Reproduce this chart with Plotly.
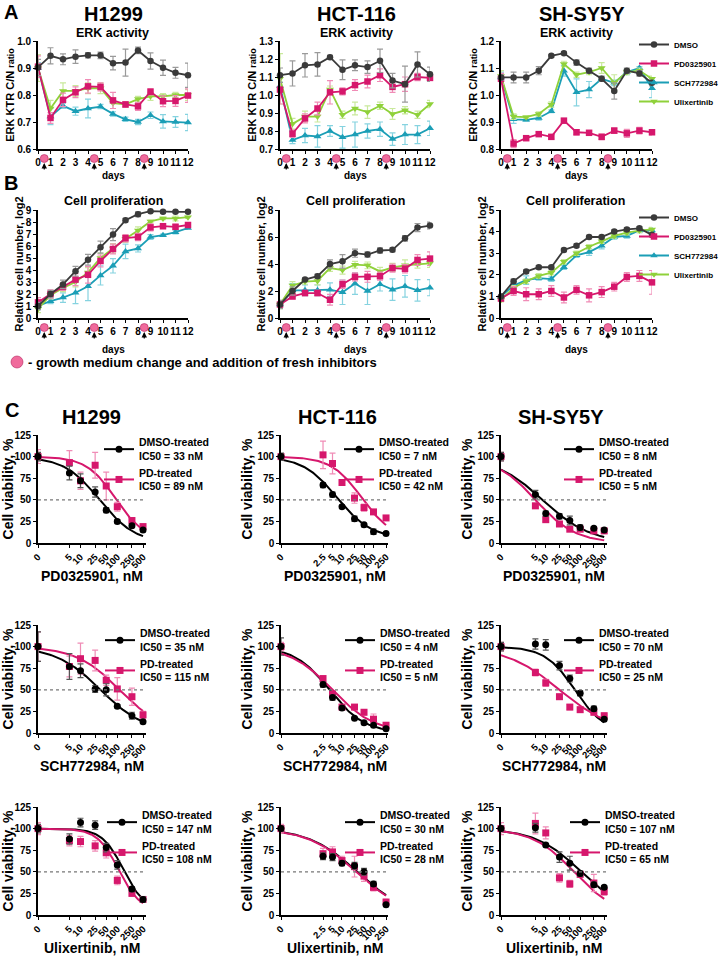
import numpy as np
import plotly.graph_objects as go

FONT = "Liberation Sans"
W, H = 728, 959

# ------------------------------------------------------------------ data
days = list(range(13))
change_days = [0.5, 4.5, 8.5]

# Panel A - ERK activity (ERK KTR C/N ratio)
erk_h1299_dmso = [0.902, 0.945, 0.932, 0.942, 0.947, 0.947, 0.918, 0.920, 0.965, 0.926, 0.901, 0.882, 0.873]
erk_h1299_dmso_err = [0.03, 0.03, 0.02, 0.025, 0.01, 0.012, 0.025, 0.05, 0.012, 0.03, 0.028, 0.02, 0.045]
erk_h1299_pd = [0.905, 0.715, 0.782, 0.810, 0.832, 0.830, 0.780, 0.765, 0.758, 0.812, 0.777, 0.778, 0.798]
erk_h1299_pd_err = [0.04, 0.02, 0.025, 0.02, 0.025, 0.015, 0.03, 0.01, 0.015, 0.012, 0.02, 0.02, 0.025]
erk_h1299_sch = [0.900, 0.720, 0.760, 0.740, 0.750, 0.757, 0.730, 0.710, 0.700, 0.725, 0.702, 0.700, 0.698]
erk_h1299_sch_err = [0.02, 0.03, 0.01, 0.015, 0.035, 0.008, 0.008, 0.008, 0.01, 0.012, 0.025, 0.02, 0.03]
erk_h1299_ulx = [0.900, 0.750, 0.815, 0.815, 0.825, 0.825, 0.770, 0.765, 0.785, 0.795, 0.795, 0.800, 0.800]
erk_h1299_ulx_err = [0.05, 0.03, 0.03, 0.02, 0.02, 0.02, 0.02, 0.01, 0.01, 0.015, 0.01, 0.01, 0.02]

erk_hct_dmso = [1.11, 1.12, 1.165, 1.17, 1.21, 1.14, 1.165, 1.155, 1.19, 1.08, 1.06, 1.17, 1.115]
erk_hct_dmso_err = [0.04, 0.07, 0.065, 0.065, 0.01, 0.055, 0.03, 0.035, 0.065, 0.04, 0.1, 0.07, 0.04]
erk_hct_pd = [1.03, 0.785, 0.87, 0.925, 1.015, 1.02, 1.055, 1.075, 1.11, 1.045, 1.06, 1.10, 1.095]
erk_hct_pd_err = [0.08, 0.02, 0.025, 0.035, 0.065, 0.02, 0.03, 0.035, 0.035, 0.03, 0.04, 0.02, 0.02]
erk_hct_sch = [1.05, 0.75, 0.775, 0.77, 0.80, 0.765, 0.78, 0.80, 0.81, 0.755, 0.78, 0.78, 0.815]
erk_hct_sch_err = [0.02, 0.02, 0.04, 0.06, 0.03, 0.06, 0.07, 0.04, 0.04, 0.035, 0.055, 0.05, 0.04]
erk_hct_ulx = [1.09, 0.84, 0.88, 0.88, 1.03, 0.89, 0.925, 0.905, 0.94, 0.895, 0.915, 0.89, 0.95]
erk_hct_ulx_err = [0.14, 0.03, 0.03, 0.03, 0.02, 0.02, 0.035, 0.035, 0.02, 0.03, 0.02, 0.02, 0.02]

erk_shsy_dmso = [1.065, 1.065, 1.065, 1.09, 1.145, 1.155, 1.12, 1.09, 1.06, 1.015, 1.09, 1.08, 1.045]
erk_shsy_dmso_err = [0.01, 0.02, 0.02, 0.015, 0.005, 0.005, 0.01, 0.01, 0.01, 0.03, 0.01, 0.01, 0.01]
erk_shsy_pd = [1.06, 0.82, 0.84, 0.855, 0.845, 0.905, 0.862, 0.86, 0.845, 0.868, 0.858, 0.868, 0.862]
erk_shsy_pd_err = [0.02, 0.015, 0.008, 0.008, 0.008, 0.008, 0.01, 0.008, 0.01, 0.01, 0.015, 0.012, 0.01]
erk_shsy_sch = [1.065, 0.91, 0.908, 0.915, 0.94, 1.09, 1.01, 1.02, 1.06, 1.045, 1.085, 1.10, 1.025]
erk_shsy_sch_err = [0.02, 0.015, 0.005, 0.008, 0.005, 0.02, 0.05, 0.03, 0.005, 0.01, 0.01, 0.005, 0.035]
erk_shsy_ulx = [1.07, 0.92, 0.918, 0.93, 0.965, 1.115, 1.075, 1.085, 1.10, 1.045, 1.085, 1.09, 1.06]
erk_shsy_ulx_err = [0.02, 0.01, 0.005, 0.008, 0.01, 0.01, 0.01, 0.01, 0.02, 0.03, 0.01, 0.01, 0.01]

# Panel B - Cell proliferation (relative cell number, log2)
pro_h1299_dmso = [1.0, 2.0, 2.8, 3.9, 4.85, 5.9, 6.95, 8.15, 8.65, 8.9, 8.85, 8.85, 8.85]
pro_h1299_dmso_err = [0.3, 0.3, 0.35, 0.4, 0.45, 0.5, 0.5, 0.15, 0.2, 0.1, 0.1, 0.1, 0.1]
pro_h1299_pd = [1.3, 2.0, 2.6, 3.2, 3.6, 4.75, 5.75, 6.65, 6.75, 7.55, 7.65, 7.6, 7.75]
pro_h1299_pd_err = [0.4, 0.35, 0.3, 0.5, 0.7, 0.5, 0.4, 0.3, 0.3, 0.3, 0.2, 0.2, 0.2]
pro_h1299_sch = [1.0, 1.4, 1.7, 2.1, 2.65, 3.55, 4.35, 5.55, 5.8, 6.75, 6.9, 7.15, 7.5]
pro_h1299_sch_err = [0.3, 0.2, 0.4, 0.9, 1.2, 0.8, 0.6, 0.6, 0.3, 0.2, 0.1, 0.15, 0.1]
pro_h1299_ulx = [0.75, 1.9, 2.5, 3.0, 3.8, 5.0, 5.8, 6.6, 7.3, 8.05, 8.3, 8.3, 8.4]
pro_h1299_ulx_err = [0.3, 0.3, 0.3, 0.4, 0.4, 0.4, 0.4, 0.3, 0.3, 0.1, 0.1, 0.2, 0.1]

pro_hct_dmso = [1.0, 2.0, 2.85, 3.1, 4.0, 4.2, 4.8, 4.7, 5.0, 5.05, 5.9, 6.7, 6.85]
pro_hct_dmso_err = [0.3, 0.3, 0.1, 0.15, 0.3, 0.5, 0.3, 0.2, 0.2, 0.15, 0.2, 0.3, 0.25]
pro_hct_pd = [1.0, 1.6, 1.85, 1.85, 1.35, 2.5, 3.05, 3.05, 3.1, 3.7, 3.65, 4.3, 4.4]
pro_hct_pd_err = [0.2, 0.2, 0.2, 0.2, 0.4, 0.3, 0.3, 0.4, 0.3, 0.3, 0.3, 0.4, 0.5]
pro_hct_sch = [1.0, 2.05, 2.05, 2.05, 2.1, 1.9, 2.55, 2.0, 2.5, 2.1, 2.35, 2.05, 2.25]
pro_hct_sch_err = [0.2, 0.5, 0.4, 0.4, 0.5, 0.9, 0.8, 1.0, 0.5, 0.8, 0.8, 0.8, 0.6]
pro_hct_ulx = [1.0, 2.4, 2.7, 2.75, 3.7, 3.55, 3.95, 3.9, 3.45, 3.75, 3.9, 4.0, 4.05]
pro_hct_ulx_err = [0.3, 0.3, 0.2, 0.3, 0.25, 0.3, 0.25, 0.25, 0.3, 0.3, 0.4, 0.3, 0.3]

pro_shsy_dmso = [1.0, 1.7, 2.15, 2.35, 2.35, 3.15, 3.35, 3.75, 3.75, 4.0, 4.1, 4.15, 3.85]
pro_shsy_dmso_err = [0.1, 0.1, 0.08, 0.08, 0.08, 0.08, 0.08, 0.08, 0.08, 0.08, 0.08, 0.08, 0.1]
pro_shsy_pd = [0.9, 1.25, 1.1, 1.1, 1.25, 0.95, 1.3, 1.05, 1.2, 1.45, 1.9, 1.95, 1.65]
pro_shsy_pd_err = [0.1, 0.2, 0.3, 0.25, 0.25, 0.25, 0.2, 0.3, 0.25, 0.2, 0.2, 0.25, 0.55]
pro_shsy_sch = [1.0, 1.5, 1.75, 1.85, 1.8, 2.35, 2.9, 3.05, 3.35, 3.75, 3.8, 4.05, 4.05]
pro_shsy_sch_err = [0.1, 0.1, 0.2, 0.1, 0.1, 0.1, 0.1, 0.15, 0.15, 0.1, 0.1, 0.1, 0.1]
pro_shsy_ulx = [0.85, 1.4, 1.7, 1.95, 2.1, 2.6, 3.0, 3.3, 3.55, 3.8, 3.95, 4.05, 4.1]
pro_shsy_ulx_err = [0.1, 0.1, 0.1, 0.1, 0.1, 0.1, 0.1, 0.1, 0.1, 0.1, 0.1, 0.1, 0.1]

# Panel C - dose response (cell viability, %)
conc_500 = [0, 5, 10, 25, 50, 100, 250, 500]
conc_250 = [0, 2.5, 5, 10, 25, 50, 100, 250]
tick_500 = ["0", "5", "10", "25", "50", "100", "250", "500"]
tick_250 = ["0", "2.5", "5", "10", "25", "50", "100", "250"]

via_h1299_pd_dmso = [100, 81, 72, 59, 38, 25, 20, 15]
via_h1299_pd_dmso_err = [5, 8, 8, 6, 3, 2, 2, 2]
via_h1299_pd_pd = [100, 93, 72, 90, 66, 42, 26, 19]
via_h1299_pd_pd_err = [8, 14, 10, 15, 16, 5, 3, 2]
via_hct_pd_dmso = [100, 67, 56, 42, 28, 21, 13, 11]
via_hct_pd_dmso_err = [4, 3, 3, 2, 3, 2, 3, 2]
via_hct_pd_pd = [100, 102, 92, 70, 52, 41, 36, 29]
via_hct_pd_pd_err = [3, 16, 12, 3, 6, 4, 2, 2]
via_shsy_pd_dmso = [100, 56, 34, 31, 26, 18, 17, 15]
via_shsy_pd_dmso_err = [5, 5, 3, 3, 5, 3, 2, 2]
via_shsy_pd_pd = [100, 43, 27, 22, 16, 16, 14, 14]
via_shsy_pd_pd_err = [5, 3, 2, 2, 2, 2, 2, 2]

via_h1299_sch_dmso = [100, 77, 72, 51, 50, 31, 20, 13]
via_h1299_sch_dmso_err = [17, 15, 8, 4, 7, 2, 4, 2]
via_h1299_sch_pd = [100, 77, 86, 84, 61, 51, 42, 21]
via_h1299_sch_pd_err = [17, 12, 18, 12, 6, 13, 10, 4]
via_hct_sch_dmso = [100, 56, 41, 29, 17, 12, 9, 5]
via_hct_sch_dmso_err = [10, 3, 3, 2, 1, 1, 1, 1]
via_hct_sch_pd = [100, 63, 45, 30, 30, 24, 16, 9]
via_hct_sch_pd_err = [5, 3, 3, 2, 3, 3, 6, 3]
via_shsy_sch_dmso = [100, 103, 102, 78, 63, 46, 28, 16]
via_shsy_sch_dmso_err = [5, 6, 6, 5, 4, 3, 3, 2]
via_shsy_sch_pd = [100, 70, 58, 42, 30, 27, 24, 20]
via_shsy_sch_pd_err = [5, 4, 4, 3, 3, 3, 3, 3]

via_h1299_ulx_dmso = [100, 88, 107, 104, 78, 58, 30, 18]
via_h1299_ulx_dmso_err = [5, 6, 5, 5, 5, 5, 3, 3]
via_h1299_ulx_pd = [100, 86, 85, 80, 72, 40, 25, 18]
via_h1299_ulx_pd_err = [7, 6, 6, 6, 6, 5, 3, 3]
via_hct_ulx_dmso = [100, 68, 67, 60, 57, 50, 36, 12]
via_hct_ulx_dmso_err = [3, 4, 4, 3, 4, 4, 3, 2]
via_hct_ulx_pd = [100, 71, 73, 63, 56, 45, 32, 15]
via_hct_ulx_pd_err = [5, 6, 6, 5, 12, 6, 4, 3]
via_shsy_ulx_dmso = [100, 101, 81, 67, 60, 48, 35, 32]
via_shsy_ulx_dmso_err = [3, 5, 2, 6, 8, 3, 3, 2]
via_shsy_ulx_pd = [100, 106, 95, 43, 36, 47, 37, 27]
via_shsy_ulx_pd_err = [7, 12, 7, 5, 4, 3, 10, 4]

# fitted dose-response parameters (top, bottom, IC50 nM, hill)
fit_h1299_pd_dmso = (100, 0, 33, 0.9)
fit_h1299_pd_pd = (100, 3, 89, 1.1)
fit_hct_pd_dmso = (100, 5, 7, 0.8)
fit_hct_pd_pd = (100, 5, 42, 0.9)
fit_shsy_pd_dmso = (100, 0, 8, 0.625)
fit_shsy_pd_pd = (100, 0, 5, 0.746)
fit_h1299_sch_dmso = (100, 0, 35, 0.715)
fit_h1299_sch_pd = (100, 0, 115, 0.733)
fit_hct_sch_dmso = (100, 0, 4, 0.777)
fit_hct_sch_pd = (100, 0, 5, 0.648)
fit_shsy_sch_dmso = (100, 0, 70, 1.0)
fit_shsy_sch_pd = (100, 0, 25, 0.56)
fit_h1299_ulx_dmso = (100, 5, 147, 1.5)
fit_h1299_ulx_pd = (100, 5, 108, 1.5)
fit_hct_ulx_dmso = (100, 0, 30, 0.57)
fit_hct_ulx_pd = (100, 0, 28, 0.57)
fit_shsy_ulx_dmso = (100, 0, 107, 0.655)
fit_shsy_ulx_pd = (100, 0, 65, 0.72)

ic50_labels = [
    ("33", "89"), ("7", "42"), ("8", "5"),
    ("35", "115"), ("4", "5"), ("70", "25"),
    ("147", "108"), ("30", "28"), ("107", "65"),
]

# ------------------------------------------------------------------ style
C_DMSO, E_DMSO = "#3a3a3a", "#9a9a9a"
C_PD, E_PD = "#d6176c", "#f08cb6"
C_SCH, E_SCH = "#1b9eb6", "#86d3e0"
C_ULX, E_ULX = "#8fd13a", "#c9e99c"
C_BLK, E_BLK = "#000000", "#555555"
PINK_DOT = "#f06b9c"


def fx(p):
    return p / W


def fy(p):
    return 1 - p / H


AB_cols = [(38, 188), (280, 430), (501, 652)]
A_row = (41, 149)
B_row = (210, 318)
C_cols = [(38, 146), (281, 388), (501, 607)]
C_rows = [(435, 543), (625, 733), (807, 915)]
C_zero = [0.7, 0.116, 0.5]
C_hi = [2.78, 2.46, 2.78]

fig = go.Figure()
layout = dict(
    width=W, height=H, margin=dict(l=0, r=0, t=0, b=0),
    paper_bgcolor="white", plot_bgcolor="rgba(0,0,0,0)",
    font=dict(family=FONT, color="black", weight="bold"),
    showlegend=True,
)
annotations = []
shapes = []

tickfont = dict(family=FONT, size=10, color="black", weight="bold")


def axis_common():
    return dict(showline=True, linecolor="black", linewidth=1.6, ticks="outside",
                ticklen=3, tickwidth=1.4, tickcolor="black", showgrid=False,
                zeroline=False, tickfont=tickfont, fixedrange=True, automargin=False)


def set_axes(i, xpx, ypx, xextra, yextra):
    xn = "xaxis" if i == 1 else f"xaxis{i}"
    yn = "yaxis" if i == 1 else f"yaxis{i}"
    xa = axis_common()
    xa.update(domain=[fx(xpx[0]), fx(xpx[1])], anchor=f"y{i}" if i > 1 else "y")
    xa.update(xextra)
    ya = axis_common()
    ya.update(domain=[fy(ypx[1]), fy(ypx[0])], anchor=f"x{i}" if i > 1 else "x")
    ya.update(yextra)
    layout[xn] = xa
    layout[yn] = ya
    return ("x" if i == 1 else f"x{i}"), ("y" if i == 1 else f"y{i}")


def ytitle(s, size, standoff=3):
    return dict(text=s, standoff=standoff,
                font=dict(family=FONT, size=size, color="black", weight="bold"))


def text(x, y, s, size, xanchor="center", angle=0, yanchor="middle"):
    annotations.append(dict(x=fx(x), y=fy(y), xref="paper", yref="paper", text=s,
                            showarrow=False, xanchor=xanchor, yanchor=yanchor,
                            textangle=angle,
                            font=dict(family=FONT, size=size, color="black", weight="bold")))


def series(xr, yr, x, y, err, color, ecolor, symbol, size):
    fig.add_trace(go.Scatter(
        x=x, y=y, xaxis=xr, yaxis=yr, mode="lines+markers",
        line=dict(color=color, width=1.8),
        marker=dict(symbol=symbol, size=size, color=color, line=dict(width=0)),
        error_y=dict(type="data", array=err, color=ecolor, thickness=1.2, width=3),
        cliponaxis=False, showlegend=False, hoverinfo="skip"))


# ------------------------------------------------------------------ panels A & B
cell_lines = ["H1299", "HCT-116", "SH-SY5Y"]
A_sets = [
    (erk_h1299_dmso, erk_h1299_dmso_err, erk_h1299_pd, erk_h1299_pd_err,
     erk_h1299_sch, erk_h1299_sch_err, erk_h1299_ulx, erk_h1299_ulx_err),
    (erk_hct_dmso, erk_hct_dmso_err, erk_hct_pd, erk_hct_pd_err,
     erk_hct_sch, erk_hct_sch_err, erk_hct_ulx, erk_hct_ulx_err),
    (erk_shsy_dmso, erk_shsy_dmso_err, erk_shsy_pd, erk_shsy_pd_err,
     erk_shsy_sch, erk_shsy_sch_err, erk_shsy_ulx, erk_shsy_ulx_err),
]
B_sets = [
    (pro_h1299_dmso, pro_h1299_dmso_err, pro_h1299_pd, pro_h1299_pd_err,
     pro_h1299_sch, pro_h1299_sch_err, pro_h1299_ulx, pro_h1299_ulx_err),
    (pro_hct_dmso, pro_hct_dmso_err, pro_hct_pd, pro_hct_pd_err,
     pro_hct_sch, pro_hct_sch_err, pro_hct_ulx, pro_hct_ulx_err),
    (pro_shsy_dmso, pro_shsy_dmso_err, pro_shsy_pd, pro_shsy_pd_err,
     pro_shsy_sch, pro_shsy_sch_err, pro_shsy_ulx, pro_shsy_ulx_err),
]
A_yranges = [(0.6, 1.0, 0.1), (0.7, 1.3, 0.1), (0.8, 1.2, 0.1)]
B_yranges = [(0, 9, 1), (0, 8, 2), (0, 5, 1)]
A_title_x = [113, 356, 582]
A_sub_x = [112, 356, 576]
B_sub_x = [113, 355, 575]

idx = 0
for panel, sets, row, yranges, sub, subx, ytext, ystand in [
    ("A", A_sets, A_row, A_yranges, "ERK activity", A_sub_x,
     "ERK KTR C/N <span style='font-size:9px'>ratio</span>", 0),
    ("B", B_sets, B_row, B_yranges, "Cell proliferation", B_sub_x,
     "Relative cell number, log2", 0),
]:
    for c in range(3):
        idx += 1
        lo, hi, dt = yranges[c]
        xr, yr = set_axes(idx, AB_cols[c], row,
                          dict(range=[0, 12], tickvals=days, ticktext=[str(d) for d in days],
                               tickangle=0),
                          dict(range=[lo, hi], dtick=dt, tick0=lo,
                               tickformat=".1f" if panel == "A" else "d",
                               title=ytitle(ytext, 11, ystand)))
        d, de, p, pe, s, se, u, ue = sets[c]
        series(xr, yr, days, s, se, C_SCH, E_SCH, "triangle-up", 7)
        series(xr, yr, days, u, ue, C_ULX, E_ULX, "triangle-down", 7)
        series(xr, yr, days, p, pe, C_PD, E_PD, "square", 6.5)
        series(xr, yr, days, d, de, C_DMSO, E_DMSO, "circle", 6.5)
        # subtitle, x title
        text(subx[c], row[0] - (8 if panel == "A" else 9), sub, 12.5)
        text((AB_cols[c][0] + AB_cols[c][1]) / 2, row[1] + 26 + (0 if panel == "A" else 5),
             "days", 10)
        # medium change markers
        for cd in change_days:
            shapes.append(dict(type="circle", xref=xr, yref="paper",
                               xsizemode="pixel", ysizemode="pixel",
                               xanchor=cd, yanchor=fy(row[1] + 9.5),
                               x0=-4, x1=4, y0=-4, y1=4,
                               fillcolor=PINK_DOT, line=dict(color="#b3245e", width=0.6)))
            annotations.append(dict(x=cd, y=fy(row[1] + 14), xref=xr, yref="paper",
                                    text="", showarrow=True, ax=0, ay=8,
                                    arrowhead=2, arrowsize=0.9, arrowwidth=1.2,
                                    arrowcolor="black"))
        if c == 2:
            lg = "legend" if panel == "A" else "legend2"
            for nm, col, sym in [("DMSO", C_DMSO, "circle"), ("PD0325901", C_PD, "square"),
                                 ("SCH772984", C_SCH, "triangle-up"),
                                 ("Ulixertinib", C_ULX, "triangle-down")]:
                fig.add_trace(go.Scatter(x=[None], y=[None], xaxis=xr, yaxis=yr,
                                         mode="lines+markers", name=nm, legend=lg,
                                         line=dict(color=col, width=2),
                                         marker=dict(symbol=sym, size=6.5, color=col)))

legend_font = dict(family=FONT, size=8, color="black", weight="bold")
layout["legend"] = dict(x=fx(634), y=fy(30), xanchor="left", yanchor="top",
                        font=legend_font, bgcolor="rgba(0,0,0,0)", itemwidth=30)
layout["legend2"] = dict(x=fx(634), y=fy(203), xanchor="left", yanchor="top",
                         font=legend_font, bgcolor="rgba(0,0,0,0)", itemwidth=30)

for c, name in enumerate(cell_lines):
    text(A_title_x[c], 14, name, 20)

text(11, 12, "A", 20)
text(11, 183, "B", 20)
text(12, 410, "C", 20)

# footnote
shapes.append(dict(type="circle", xref="paper", yref="paper",
                   x0=fx(11), x1=fx(23), y0=fy(368), y1=fy(356),
                   fillcolor=PINK_DOT, line=dict(color="#b3245e", width=0.6)))
text(26, 362, "- growth medium change and addition of fresh inhibitors", 13, xanchor="left")

# ------------------------------------------------------------------ panel C
C_sets = [
    (via_h1299_pd_dmso, via_h1299_pd_dmso_err, via_h1299_pd_pd, via_h1299_pd_pd_err, fit_h1299_pd_dmso, fit_h1299_pd_pd),
    (via_hct_pd_dmso, via_hct_pd_dmso_err, via_hct_pd_pd, via_hct_pd_pd_err, fit_hct_pd_dmso, fit_hct_pd_pd),
    (via_shsy_pd_dmso, via_shsy_pd_dmso_err, via_shsy_pd_pd, via_shsy_pd_pd_err, fit_shsy_pd_dmso, fit_shsy_pd_pd),
    (via_h1299_sch_dmso, via_h1299_sch_dmso_err, via_h1299_sch_pd, via_h1299_sch_pd_err, fit_h1299_sch_dmso, fit_h1299_sch_pd),
    (via_hct_sch_dmso, via_hct_sch_dmso_err, via_hct_sch_pd, via_hct_sch_pd_err, fit_hct_sch_dmso, fit_hct_sch_pd),
    (via_shsy_sch_dmso, via_shsy_sch_dmso_err, via_shsy_sch_pd, via_shsy_sch_pd_err, fit_shsy_sch_dmso, fit_shsy_sch_pd),
    (via_h1299_ulx_dmso, via_h1299_ulx_dmso_err, via_h1299_ulx_pd, via_h1299_ulx_pd_err, fit_h1299_ulx_dmso, fit_h1299_ulx_pd),
    (via_hct_ulx_dmso, via_hct_ulx_dmso_err, via_hct_ulx_pd, via_hct_ulx_pd_err, fit_hct_ulx_dmso, fit_hct_ulx_pd),
    (via_shsy_ulx_dmso, via_shsy_ulx_dmso_err, via_shsy_ulx_pd, via_shsy_ulx_pd_err, fit_shsy_ulx_dmso, fit_shsy_ulx_pd),
]
drugs = ["PD0325901, nM", "SCH772984, nM", "Ulixertinib, nM"]
C_title_x = [91, 337, 561]
C_leg_text_x = [[142, 382, 602], [143, 383, 602], [145, 383, 608]]
C_leg_top = [429, 620, 802]

ctickfont = dict(family=FONT, size=9.5, color="black", weight="bold")


def curve(params, z, cmax):
    top, bot, ic50, hill = params
    xs = np.logspace(np.log10(z), np.log10(cmax), 80)
    return xs, bot + (top - bot) / (1 + (xs / ic50) ** hill)


legend_n = 2
for r in range(3):
    for c in range(3):
        idx += 1
        k = r * 3 + c
        conc = conc_250 if c == 1 else conc_500
        ticks = tick_250 if c == 1 else tick_500
        z = C_zero[c]
        xpos = [z if v == 0 else v for v in conc]
        xr, yr = set_axes(idx, C_cols[c], C_rows[r],
                          dict(type="log", range=[np.log10(z), C_hi[c]], tickvals=xpos,
                               ticktext=ticks, tickangle=-45, tickfont=ctickfont),
                          dict(range=[0, 125], tickvals=[0, 25, 50, 75, 100, 125],
                               title=ytitle("Cell viability, %", 14, 2)))
        dm, dme, pdv, pde, fdm, fpd = C_sets[k]
        # dotted 50 % line
        shapes.append(dict(type="line", xref=f"{xr} domain", yref=yr, x0=0, x1=1,
                           y0=50, y1=50, line=dict(color="#777777", width=1.2, dash="dot")))
        cx, cy = curve(fdm, z, conc[-1])
        fig.add_trace(go.Scatter(x=cx, y=cy, xaxis=xr, yaxis=yr, mode="lines",
                                 line=dict(color=C_BLK, width=2), showlegend=False,
                                 hoverinfo="skip", cliponaxis=False))
        px_, py_ = curve(fpd, z, conc[-1])
        fig.add_trace(go.Scatter(x=px_, y=py_, xaxis=xr, yaxis=yr, mode="lines",
                                 line=dict(color=C_PD, width=2), showlegend=False,
                                 hoverinfo="skip", cliponaxis=False))
        fig.add_trace(go.Scatter(x=xpos, y=pdv, xaxis=xr, yaxis=yr, mode="markers",
                                 marker=dict(symbol="square", size=7, color=C_PD),
                                 error_y=dict(type="data", array=pde, color=E_PD,
                                              thickness=1.2, width=3),
                                 showlegend=False, hoverinfo="skip", cliponaxis=False))
        fig.add_trace(go.Scatter(x=xpos, y=dm, xaxis=xr, yaxis=yr, mode="markers",
                                 marker=dict(symbol="circle", size=7, color=C_BLK),
                                 error_y=dict(type="data", array=dme, color=E_BLK,
                                              thickness=1.2, width=3),
                                 showlegend=False, hoverinfo="skip", cliponaxis=False))
        # legend
        legend_n += 1
        lg = f"legend{legend_n}"
        d_ic, p_ic = ic50_labels[k]
        for nm, col, sym in [(f"DMSO-treated<br>IC50 = {d_ic} nM", C_BLK, "circle"),
                             (f"PD-treated<br>IC50 = {p_ic} nM", C_PD, "square")]:
            fig.add_trace(go.Scatter(x=[None], y=[None], xaxis=xr, yaxis=yr,
                                     mode="lines+markers", name=nm, legend=lg,
                                     line=dict(color=col, width=2),
                                     marker=dict(symbol=sym, size=7, color=col)))
        layout[lg] = dict(x=fx(C_leg_text_x[r][c] - 43), y=fy(C_leg_top[r]),
                          xanchor="left", yanchor="top", bgcolor="rgba(0,0,0,0)",
                          font=dict(family=FONT, size=10.5, color="black", weight="bold"),
                          itemwidth=30)
        # texts
        if r == 0:
            text(C_title_x[c], 417, cell_lines[c], 20)
        text((C_cols[c][0] + C_cols[c][1]) / 2, C_rows[r][1] + 33, drugs[r], 14)

layout["annotations"] = annotations
layout["shapes"] = shapes
fig.update_layout(**layout)
fig.write_html("out.html", config={"displayModeBar": False},
               post_script="document.body.style.margin='0px';document.body.style.padding='0px';")
